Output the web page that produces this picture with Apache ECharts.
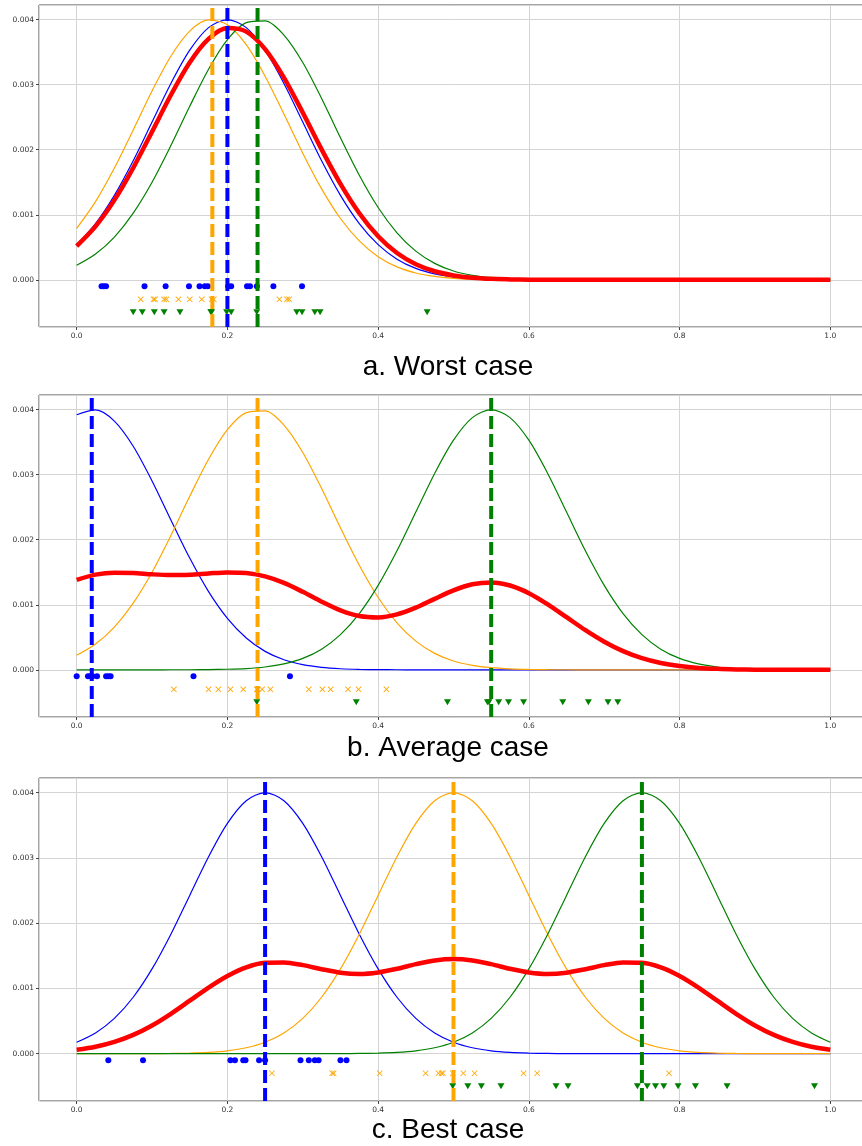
<!DOCTYPE html>
<html>
<head>
<meta charset="utf-8">
<script src="https://cdn.jsdelivr.net/npm/echarts@6/dist/echarts.min.js"></script>
<style>
  html, body { margin: 0; padding: 0; background: #fff; overflow: hidden; }
  #main { width: 872px; height: 1146px; }
</style>
</head>
<body>
<div id="main"></div>
<script>
// sample positions shared by every density curve
var xs = [0, 0.025, 0.05, 0.075, 0.1, 0.125, 0.15, 0.175, 0.2, 0.225, 0.25, 0.275, 0.3, 0.325, 0.35, 0.375, 0.4,
    0.425, 0.45, 0.475, 0.5, 0.525, 0.55, 0.575, 0.6, 0.625, 0.65, 0.675, 0.7, 0.725, 0.75, 0.775, 0.8, 0.825,
    0.85, 0.875, 0.9, 0.925, 0.95, 0.975, 1.0];

// a. Worst case
var aBlue = [0.000541, 0.000865, 0.001299, 0.001831, 0.002426, 0.003019, 0.003530, 0.003877, 0.004000, 0.003877,
    0.003530, 0.003019, 0.002426, 0.001831, 0.001299, 0.000865, 0.000541, 0.000318, 0.000176, 0.000091, 0.000044,
    0.000020, 0.000009, 0.000004, 0.000001, 0, 0, 0, 0, 0, 0, 0, 0, 0, 0, 0, 0, 0, 0, 0, 0];
var aOrange = [0.000792, 0.001203, 0.001718, 0.002305, 0.002904, 0.003438, 0.003824, 0.003995, 0.003921, 0.003615,
    0.003131, 0.002548, 0.001947, 0.001398, 0.000943, 0.000598, 0.000356, 0.000199, 0.000105, 0.000052, 0.000024,
    0.000010, 0.000004, 0.000002, 0, 0, 0, 0, 0, 0, 0, 0, 0, 0, 0, 0, 0, 0, 0, 0, 0];
var aGreen = [0.000224, 0.000397, 0.000658, 0.001026, 0.001501, 0.002065, 0.002668, 0.003238, 0.003692, 0.003955,
    0.003980, 0.003762, 0.003341, 0.002787, 0.002184, 0.001608, 0.001112, 0.000723, 0.000441, 0.000253, 0.000136,
    0.000069, 0.000033, 0.000015, 0.000006, 0.000002, 0.000001, 0, 0, 0, 0, 0, 0, 0, 0, 0, 0, 0, 0, 0, 0];
var aMix = [0.000519, 0.000822, 0.001225, 0.001721, 0.002277, 0.002841, 0.003341, 0.003703, 0.003871, 0.003816,
    0.003547, 0.003110, 0.002571, 0.002005, 0.001475, 0.001024, 0.000670, 0.000413, 0.000241, 0.000132, 0.000068,
    0.000033, 0.000015, 0.000007, 0.000002, 0.000001, 0, 0, 0, 0, 0, 0, 0, 0, 0, 0, 0, 0, 0, 0, 0];
var aMeans = [0.20, 0.18, 0.24];
var aDotsBlue = [0.033, 0.036, 0.039, 0.090, 0.118, 0.149, 0.163, 0.170, 0.174, 0.201, 0.205, 0.226, 0.230, 0.239, 0.261, 0.299];
var aDotsOrange = [0.085, 0.102, 0.104, 0.116, 0.119, 0.135, 0.150, 0.166, 0.179, 0.182, 0.269, 0.279, 0.282];
var aDotsGreen = [0.075, 0.087, 0.103, 0.116, 0.137, 0.178, 0.179, 0.199, 0.205, 0.239, 0.292, 0.299, 0.316, 0.323, 0.465];

// b. Average case
var bBlue = [0.003921, 0.003995, 0.003824, 0.003438, 0.002904, 0.002305, 0.001718, 0.001203, 0.000792, 0.000489,
    0.000284, 0.000155, 0.000079, 0.000038, 0.000017, 0.000007, 0.000003, 0.000001, 0, 0, 0, 0, 0, 0, 0, 0, 0, 0,
    0, 0, 0, 0, 0, 0, 0, 0, 0, 0, 0, 0, 0];
var bOrange = [0.000224, 0.000397, 0.000658, 0.001026, 0.001501, 0.002065, 0.002668, 0.003238, 0.003692, 0.003955,
    0.003980, 0.003762, 0.003341, 0.002787, 0.002184, 0.001608, 0.001112, 0.000723, 0.000441, 0.000253, 0.000136,
    0.000069, 0.000033, 0.000015, 0.000006, 0.000002, 0.000001, 0, 0, 0, 0, 0, 0, 0, 0, 0, 0, 0, 0, 0, 0];
var bGreen = [0, 0, 0, 0, 0, 0.000001, 0.000001, 0.000004, 0.000009, 0.000020, 0.000044, 0.000091, 0.000176,
    0.000318, 0.000541, 0.000865, 0.001299, 0.001831, 0.002426, 0.003019, 0.003530, 0.003877, 0.004000, 0.003877,
    0.003530, 0.003019, 0.002426, 0.001831, 0.001299, 0.000865, 0.000541, 0.000318, 0.000176, 0.000091, 0.000044,
    0.000020, 0.000009, 0.000004, 0.000001, 0, 0];
var bMix = [0.001382, 0.001464, 0.001494, 0.001488, 0.001468, 0.001457, 0.001462, 0.001482, 0.001498, 0.001488,
    0.001436, 0.001336, 0.001199, 0.001048, 0.000914, 0.000827, 0.000805, 0.000852, 0.000956, 0.001091, 0.001222,
    0.001315, 0.001344, 0.001297, 0.001179, 0.001007, 0.000809, 0.000610, 0.000433, 0.000288, 0.000180, 0.000106,
    0.000059, 0.000030, 0.000015, 0.000007, 0.000003, 0.000001, 0, 0, 0];
var bMeans = [0.02, 0.24, 0.55];
var bDotsBlue = [0.0, 0.015, 0.018, 0.021, 0.027, 0.039, 0.042, 0.045, 0.155, 0.283];
var bDotsOrange = [0.129, 0.175, 0.188, 0.204, 0.221, 0.239, 0.240, 0.246, 0.257, 0.308, 0.326, 0.337, 0.360, 0.374, 0.411];
var bDotsGreen = [0.239, 0.371, 0.492, 0.545, 0.547, 0.560, 0.573, 0.593, 0.645, 0.679, 0.705, 0.718];

// c. Best case
var cBlue = [0.000176, 0.000318, 0.000541, 0.000865, 0.001299, 0.001831, 0.002426, 0.003019, 0.003530, 0.003877,
    0.004000, 0.003877, 0.003530, 0.003019, 0.002426, 0.001831, 0.001299, 0.000865, 0.000541, 0.000318, 0.000176,
    0.000091, 0.000044, 0.000020, 0.000009, 0.000004, 0.000001, 0, 0, 0, 0, 0, 0, 0, 0, 0, 0, 0, 0, 0, 0];
var cOrange = [0, 0, 0, 0, 0.000001, 0.000004, 0.000009, 0.000020, 0.000044, 0.000091, 0.000176, 0.000318, 0.000541,
    0.000865, 0.001299, 0.001831, 0.002426, 0.003019, 0.003530, 0.003877, 0.004000, 0.003877, 0.003530, 0.003019,
    0.002426, 0.001831, 0.001299, 0.000865, 0.000541, 0.000318, 0.000176, 0.000091, 0.000044, 0.000020, 0.000009,
    0.000004, 0.000001, 0, 0, 0, 0];
var cGreen = [0, 0, 0, 0, 0, 0, 0, 0, 0, 0, 0, 0, 0, 0, 0.000001, 0.000004, 0.000009, 0.000020, 0.000044, 0.000091,
    0.000176, 0.000318, 0.000541, 0.000865, 0.001299, 0.001831, 0.002426, 0.003019, 0.003530, 0.003877, 0.004000,
    0.003877, 0.003530, 0.003019, 0.002426, 0.001831, 0.001299, 0.000865, 0.000541, 0.000318, 0.000176];
var cMix = [0.000059, 0.000106, 0.000180, 0.000288, 0.000433, 0.000612, 0.000812, 0.001013, 0.001191, 0.001323,
    0.001392, 0.001398, 0.001357, 0.001295, 0.001242, 0.001222, 0.001245, 0.001301, 0.001372, 0.001429, 0.001451,
    0.001429, 0.001372, 0.001301, 0.001245, 0.001222, 0.001242, 0.001295, 0.001357, 0.001398, 0.001392, 0.001323,
    0.001191, 0.001013, 0.000812, 0.000612, 0.000433, 0.000288, 0.000180, 0.000106, 0.000059];
var cMeans = [0.25, 0.50, 0.75];
var cDotsBlue = [0.042, 0.088, 0.204, 0.210, 0.221, 0.224, 0.242, 0.250, 0.297, 0.308, 0.316, 0.321, 0.350, 0.358];
var cDotsOrange = [0.259, 0.339, 0.341, 0.402, 0.463, 0.480, 0.484, 0.486, 0.499, 0.513, 0.528, 0.593, 0.611, 0.786];
var cDotsGreen = [0.499, 0.519, 0.537, 0.563, 0.636, 0.652, 0.744, 0.757, 0.768, 0.779, 0.798, 0.821, 0.863, 0.979];

var rugLevels = [-0.0001, -0.0003, -0.0005];
var titles = ['a. Worst case', 'b. Average case', 'c. Best case'];
var yMin = -0.000725, yMax = 0.004225;

var colors = ['#0000ff', '#ffa500', '#008000'];
var markers = ['circle', 'path://M0,1L1,0L5,4L9,0L10,1L6,5L10,9L9,10L5,6L1,10L0,9L4,5Z', 'path://M0,0L10,0L5,9Z'];
var markerSizes = [6, 6, [7, 6]];

var panels = [
    {curves: [aBlue, aOrange, aGreen], mix: aMix, means: aMeans, dots: [aDotsBlue, aDotsOrange, aDotsGreen], top: 5, height: 322, title: 367},
    {curves: [bBlue, bOrange, bGreen], mix: bMix, means: bMeans, dots: [bDotsBlue, bDotsOrange, bDotsGreen], top: 395, height: 322, title: 748},
    {curves: [cBlue, cOrange, cGreen], mix: cMix, means: cMeans, dots: [cDotsBlue, cDotsOrange, cDotsGreen], top: 778, height: 323, title: 1130}
];

function pairs(ys) {
    return xs.map(function (x, i) { return [x, ys[i]]; });
}

var grids = [], xAxes = [], yAxes = [], series = [], graphics = [];

panels.forEach(function (p, g) {
    grids.push({
        left: 39, width: 829, top: p.top, height: p.height,
        show: true, borderColor: '#4a4a4a', borderWidth: 1, backgroundColor: 'transparent'
    });
    xAxes.push({
        type: 'value', gridIndex: g, min: -0.05, max: 1.05, splitNumber: 5,
        axisLine: {show: false, onZero: false},
        axisTick: {show: true, length: 3, lineStyle: {color: '#444'}},
        axisLabel: {
            fontSize: 7.5, color: '#333', fontFamily: 'DejaVu Sans', margin: 5,
            showMinLabel: false, showMaxLabel: false,
            formatter: function (v) { return v.toFixed(1); }
        },
        splitLine: {show: true, lineStyle: {color: '#d4d4d4', width: 1}}
    });
    yAxes.push({
        type: 'value', gridIndex: g, min: yMin, max: yMax, splitNumber: 5,
        axisLine: {show: false, onZero: false},
        axisTick: {show: true, length: 3, lineStyle: {color: '#444'}},
        axisLabel: {
            fontSize: 7.5, color: '#333', fontFamily: 'DejaVu Sans', margin: 5,
            showMinLabel: false, showMaxLabel: false,
            formatter: function (v) { return v.toFixed(3); }
        },
        splitLine: {show: true, lineStyle: {color: '#d4d4d4', width: 1}}
    });

    // single-component densities
    p.curves.forEach(function (ys, k) {
        series.push({
            type: 'line', xAxisIndex: g, yAxisIndex: g, data: pairs(ys),
            smooth: 0.3, showSymbol: false, z: 2,
            lineStyle: {color: colors[k], width: 1.2}
        });
    });
    // mixture
    series.push({
        type: 'line', xAxisIndex: g, yAxisIndex: g, data: pairs(p.mix),
        smooth: 0.3, showSymbol: false, z: 3,
        lineStyle: {color: '#ff0000', width: 4.5}
    });
    // rug points
    p.dots.forEach(function (d, k) {
        series.push({
            type: 'scatter', xAxisIndex: g, yAxisIndex: g, z: 4,
            symbol: markers[k], symbolSize: markerSizes[k],
            itemStyle: {color: colors[k], opacity: 1},
            data: d.map(function (x) { return [x, rugLevels[k]]; })
        });
    });
    // dashed mean lines
    p.means.forEach(function (m, k) {
        series.push({
            type: 'line', xAxisIndex: g, yAxisIndex: g, z: 5,
            showSymbol: false,
            lineStyle: {color: colors[k], width: 4, type: [13, 5]},
            data: [[m, yMin], [m, yMax]]
        });
    });

    graphics.push({
        type: 'text', x: 448, y: p.title,
        style: {
            text: titles[g], fill: '#000', fontSize: 28, fontFamily: 'Liberation Sans',
            align: 'center', verticalAlign: 'middle'
        }
    });
});

var myChart = echarts.init(document.getElementById('main'));
myChart.setOption({
    animation: false,
    grid: grids,
    xAxis: xAxes,
    yAxis: yAxes,
    series: series,
    graphic: graphics
});
</script>
</body>
</html>
